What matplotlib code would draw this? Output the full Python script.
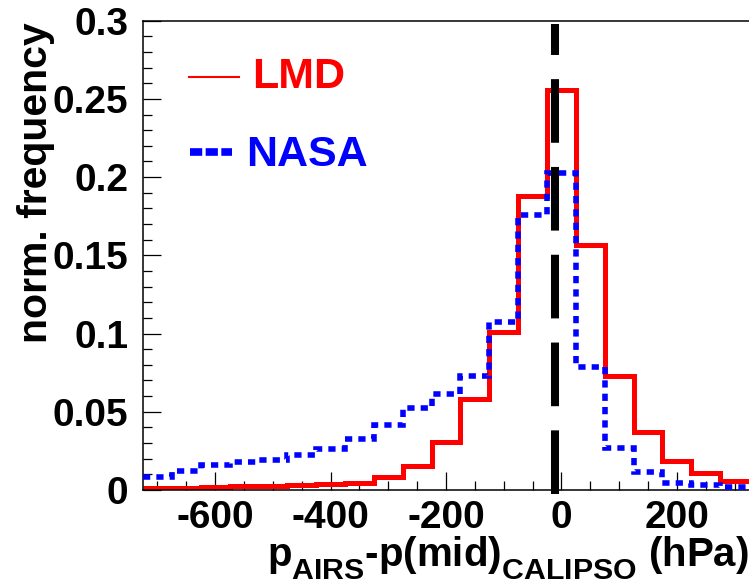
import matplotlib
matplotlib.use("Agg")
import matplotlib.pyplot as plt
import matplotlib._mathtext as mathtext_internals
from matplotlib.lines import Line2D
from matplotlib.ticker import MultipleLocator, FixedLocator, FixedFormatter

plt.rcParams['font.family'] = ['Liberation Sans', 'DejaVu Sans']
plt.rcParams['font.weight'] = 'bold'
plt.rcParams['axes.unicode_minus'] = False
plt.rcParams['mathtext.fontset'] = 'custom'
plt.rcParams['mathtext.rm'] = 'Liberation Sans:bold'
plt.rcParams['mathtext.it'] = 'Liberation Sans:bold'
plt.rcParams['mathtext.bf'] = 'Liberation Sans:bold'

# ROOT-style subscripts: a bit larger and lower than mathtext's defaults
mathtext_internals.SHRINK_FACTOR = 0.75
mathtext_internals.FontConstantsBase.sub1 = 0.6

# bin edges (hPa), 50 hPa wide
bin_edges = [-725, -675, -625, -575, -525, -475, -425, -375, -325, -275, -225,
             -175, -125, -75, -25, 25, 75, 125, 175, 225, 275, 325]

# normalised frequencies
lmd = [0.0013, 0.0015, 0.0020, 0.0024, 0.0028, 0.0032, 0.0036, 0.0043, 0.0080,
       0.0155, 0.0307, 0.0582, 0.1008, 0.1880, 0.2556, 0.1567, 0.0731, 0.0369,
       0.0187, 0.0107, 0.0060]
nasa = [0.0085, 0.0123, 0.0158, 0.0181, 0.0192, 0.0224, 0.0262, 0.0326, 0.0414,
        0.0522, 0.0612, 0.0729, 0.1076, 0.1758, 0.2025, 0.0785, 0.0270, 0.0113,
        0.0047, 0.0030, 0.0017]

# mean offset marker
mean_offset = -11
marker_y = [-0.0025, 0.298]

xticks = [-600, -400, -200, 0, 200]
yticks = [0, 0.05, 0.1, 0.15, 0.2, 0.25, 0.3]
ytick_labels = ["0", "0.05", "0.1", "0.15", "0.2", "0.25", "0.3"]

W, H = 749, 585
fig = plt.figure(figsize=(W / 100, H / 100), dpi=100)
ax = fig.add_axes([143 / W, 1 - 490 / H, 1 - 143 / W, (490 - 20.7) / H])

ax.stairs(lmd, bin_edges, baseline=None, color='#ff0000', linewidth=3.6, zorder=2)
ax.stairs(nasa, bin_edges, baseline=None, color='#0000ff', linewidth=4.0,
          linestyle=(0, (1.3, 1.1)), zorder=3)
ax.plot([mean_offset, mean_offset], marker_y, color='black', linewidth=5.8,
        dashes=(7.9, 3.0), solid_capstyle='butt', dash_capstyle='butt',
        clip_on=False, zorder=4)

ax.set_xlim(bin_edges[0], bin_edges[-1])
ax.set_ylim(0, 0.3)

ax.spines['right'].set_visible(False)
for s in ['left', 'bottom', 'top']:
    ax.spines[s].set_linewidth(1.1)

ax.xaxis.set_major_locator(FixedLocator(xticks))
ax.xaxis.set_minor_locator(MultipleLocator(50))
ax.yaxis.set_major_locator(FixedLocator(yticks))
ax.yaxis.set_major_formatter(FixedFormatter(ytick_labels))
ax.yaxis.set_minor_locator(MultipleLocator(0.01))

ax.tick_params(which='both', direction='in', top=False, right=False, width=0.9)
ax.tick_params(which='major', length=13)
ax.tick_params(which='minor', length=6.5)
ax.tick_params(axis='x', which='major', labelsize=28, pad=7.5)
ax.tick_params(axis='y', which='major', labelsize=28, pad=10.5)

ax.set_xlabel(r"$p_{AIRS}$-$p(mid)_{CALIPSO}$ (hPa)", fontsize=29,
              fontweight='bold', loc='right', va='baseline')
ax.xaxis.set_label_coords(1.0, -(567 - 490) / (490 - 20.7))
ax.set_ylabel("norm. frequency", fontsize=29.5, fontweight='bold',
              loc='top', va='baseline')
ax.yaxis.set_label_coords(-(143 - 47) / (W - 143), (490 - 22) / (490 - 20.7))

# legend drawn by hand, as in the original
tf = fig.transFigure
fig.add_artist(Line2D([189 / W, 239 / W], [1 - 76.7 / H] * 2, color='#ff0000',
                      linewidth=1.5, transform=tf))
fig.text(252 / W, 1 - 88 / H, "LMD", color='#ff0000', fontsize=31,
         fontweight='bold', va='baseline', ha='left')
fig.add_artist(Line2D([190 / W, 232 / W], [1 - 152 / H] * 2, color='#0000ff',
                      linewidth=5.5, dashes=(1.6, 0.45), transform=tf))
fig.text(246 / W, 1 - 166 / H, "NASA", color='#0000ff', fontsize=31,
         fontweight='bold', va='baseline', ha='left')

fig.savefig("out.png", dpi=100)
